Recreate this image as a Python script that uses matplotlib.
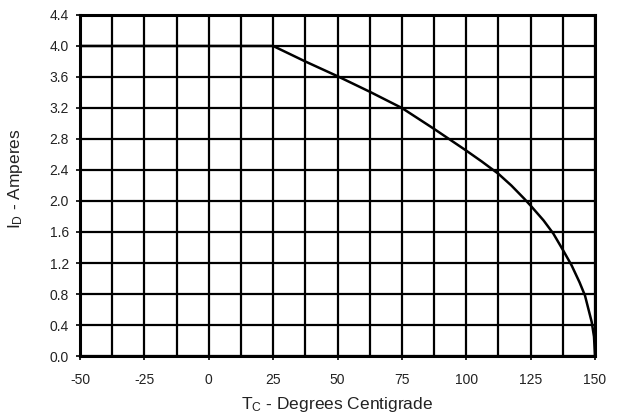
import matplotlib
matplotlib.use("Agg")
import matplotlib.pyplot as plt
import numpy as np

plt.rcParams['font.family'] = ['Liberation Sans', 'DejaVu Sans']
plt.rcParams['mathtext.default'] = 'regular'
plt.rcParams['axes.unicode_minus'] = False

# Drain current derating vs. case temperature
temp_c = [-50, 25, 37.5, 50, 62.5, 75, 87.5, 100, 106, 112.5, 117.5, 122.5,
          125, 130, 133.8, 137.5, 140.9, 144, 146.1, 148.7, 149.6, 150]
current_a = [4.0, 4.0, 3.80, 3.61, 3.41, 3.2, 2.93, 2.65, 2.51, 2.35, 2.20, 2.03,
             1.94, 1.75, 1.58, 1.37, 1.17, 0.95, 0.78, 0.44, 0.25, 0.0]

x_ticks = [-50, -25, 0, 25, 50, 75, 100, 125, 150]
y_ticks = [0.0, 0.4, 0.8, 1.2, 1.6, 2.0, 2.4, 2.8, 3.2, 3.6, 4.0, 4.4]

fig = plt.figure(figsize=(6.23, 4.16), dpi=100)
ax = fig.add_axes([0.1284, 0.1442, 0.8267, 0.8198])

ax.set_xlim(-50, 150)
ax.set_ylim(0, 4.4)

ax.set_xticks(x_ticks)
ax.set_xticks(np.arange(-50, 150.1, 12.5), minor=True)
ax.set_yticks(y_ticks)
ax.set_yticklabels([f"{v:.1f}" for v in y_ticks])

ax.grid(True, which='both', color='black', linewidth=1.6)
ax.set_axisbelow(True)

ax.plot(temp_c, current_a, color='black', linewidth=1.8,
        solid_joinstyle='round', solid_capstyle='round')

for s in ax.spines.values():
    s.set_linewidth(2.2)
    s.set_color('black')

ax.tick_params(axis='both', which='major', length=3, width=1.2, labelsize=10,
               colors='black', labelcolor='#222222')
ax.tick_params(axis='x', which='major', pad=9)
ax.tick_params(axis='y', which='major', pad=5)
ax.tick_params(axis='both', which='minor', length=0)

ax.set_xlabel("T$_{C}$ - Degrees Centigrade", fontsize=12.5, color='#222222',
              va='center')
ax.xaxis.set_label_coords(0.5, -0.141)
ax.set_ylabel("I$_{D}$ - Amperes", fontsize=12.5, color='#222222', va='center')
ax.yaxis.set_label_coords(-0.126, 0.52)

fig.savefig("out.png", dpi=100)
